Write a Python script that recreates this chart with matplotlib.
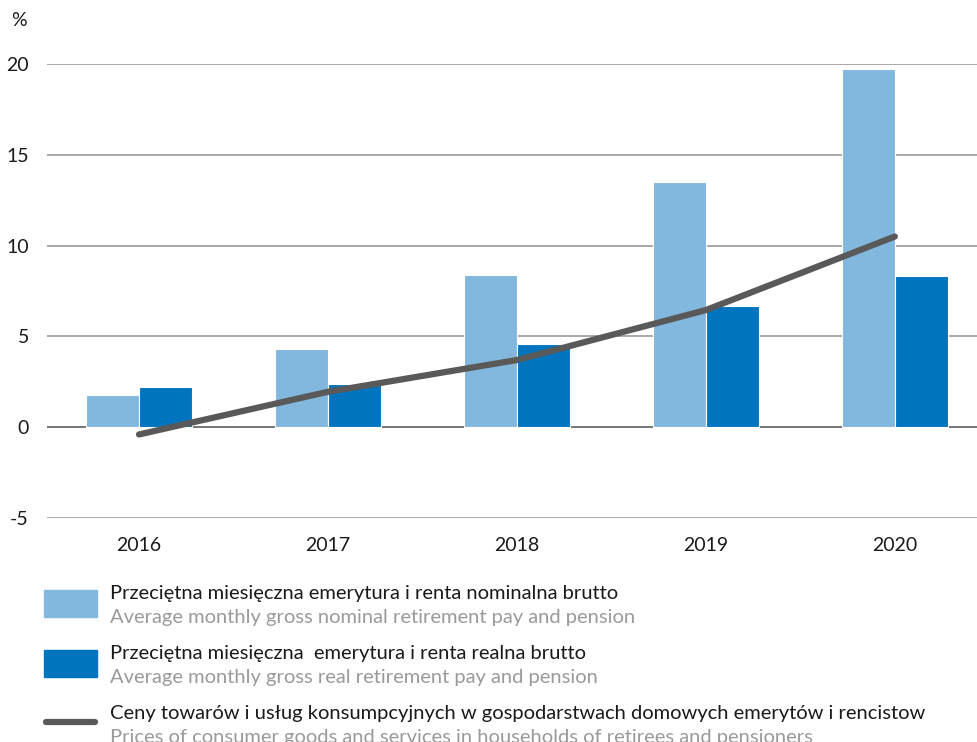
import numpy as np
import matplotlib.pyplot as plt
from matplotlib.patches import Rectangle
from matplotlib.lines import Line2D

# Dane
years = ['2016', '2017', '2018', '2019', '2020']
nominal = [1.8, 4.3, 8.4, 13.5, 19.7]
real = [2.2, 2.4, 4.6, 6.7, 8.3]
prices = [-0.4, 1.95, 3.7, 6.45, 10.5]

pl_labels = ['Przeciętna miesięczna emerytura i renta nominalna brutto',
             'Przeciętna miesięczna  emerytura i renta realna brutto',
             'Ceny towarów i usług konsumpcyjnych w gospodarstwach domowych emerytów i rencistow']
en_labels = ['Average monthly gross nominal retirement pay and pension',
             'Average monthly gross real retirement pay and pension',
             'Prices of consumer goods and services in households of retirees and pensioners']

c_light = '#82b8de'
c_dark = '#0074be'
c_line = '#595959'
c_grid = '#9a9a9a'

plt.rcParams['font.family'] = ['Lato', 'DejaVu Sans']

fig = plt.figure(figsize=(9.77, 7.42), dpi=100)
ax = fig.add_axes([47 / 977, 1 - 518 / 742, 930 / 977, (518 - 64) / 742])

x = np.arange(len(years))
w = 0.28
ax.bar(x - w / 2, nominal, width=w, color=c_light, edgecolor='white', linewidth=0.8, zorder=2)
ax.bar(x + w / 2, real, width=w, color=c_dark, edgecolor='white', linewidth=0.8, zorder=2)
ax.plot(x, prices, color=c_line, linewidth=4.5, solid_capstyle='round', zorder=3)

ax.set_ylim(-5, 20)
ax.set_xlim(-0.487, 4.435)
ax.set_yticks([-5, 0, 5, 10, 15, 20])
ax.set_yticklabels(['-5', '0', '5', '10', '15', '20'])
ax.yaxis.grid(True, color=c_grid, linewidth=1.2, zorder=0)
ax.set_axisbelow(True)
ax.set_xticks(x)
ax.set_xticklabels(years)
for s in ax.spines.values():
    s.set_visible(False)
ax.tick_params(axis='both', length=0, labelsize=14, colors='#1a1a1a')
ax.tick_params(axis='x', pad=14)
ax.tick_params(axis='y', pad=13)
ax.axhline(0, color='#777777', linewidth=1.4, zorder=1)

fig.text(11 / 977, 1 - 20 / 742, '%', fontsize=14, color='#1a1a1a', va='center', ha='left')

# Legenda
tops = [590, 650, 710]
for i in range(3):
    y0 = tops[i]
    if i < 2:
        col = c_light if i == 0 else c_dark
        fig.patches.append(Rectangle((44 / 977, 1 - (y0 + 27) / 742), 53 / 977, 27 / 742,
                                     transform=fig.transFigure, color=col))
    else:
        fig.lines.append(Line2D([46 / 977, 95 / 977], [1 - 722 / 742, 1 - 722 / 742],
                                transform=fig.transFigure, color=c_line, linewidth=4.5,
                                solid_capstyle='round'))
    fig.text(110 / 977, 1 - (y0 + 9) / 742, pl_labels[i], fontsize=14.5, color='#1a1a1a',
             va='baseline', ha='left')
    fig.text(110 / 977, 1 - (y0 + 33) / 742, en_labels[i], fontsize=14.5, color='#9a9a9a',
             va='baseline', ha='left')

fig.savefig('out.png', dpi=100)
